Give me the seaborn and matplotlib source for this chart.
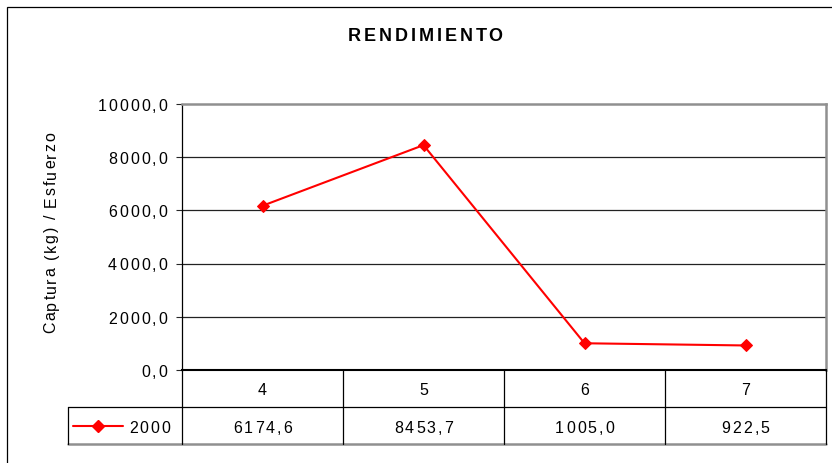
import matplotlib
matplotlib.use('Agg')
import matplotlib.pyplot as plt
from matplotlib.lines import Line2D
from matplotlib.patches import Rectangle
from matplotlib.font_manager import FontProperties
import seaborn as sns
import pandas as pd

# data
categories = ['4', '5', '6', '7']
series_name = '2000'
rendimiento = [6174.6, 8453.7, 1005.0, 922.5]
y_ticks = [0, 2000, 4000, 6000, 8000, 10000]
title = 'RENDIMIENTO'
y_label = 'Captura (kg) / Esfuerzo'

sns.set_style('white')
plt.rcParams['font.family'] = ['Liberation Sans', 'DejaVu Sans']

W, H = 832, 464
fig = plt.figure(figsize=(W / 100, H / 100), dpi=100)
renderer = fig.canvas.get_renderer()


def fx(px):
    return px / W


def fy(py):
    return 1 - py / H


def fmt(v):
    return f'{v:.1f}'.replace('.', ',')


def spaced_text(x, y, s, size=11.5, spacing=2.0, ha='center', weight='normal',
                rotation=0):
    # the reference text (old Excel) is letter-spaced, so place it char by char
    # x, y in pixels from top-left; y is the vertical centre of the caps
    fp = FontProperties(family=['Liberation Sans', 'DejaVu Sans'], size=size, weight=weight)
    base = renderer.get_text_width_height_descent('aa', fp, ismath=False)[0]
    adv = [renderer.get_text_width_height_descent('a' + c + 'a', fp, ismath=False)[0] - base
           for c in s]
    total = sum(adv) + spacing * (len(s) - 1)
    offset = {'left': 0, 'center': total / 2, 'right': total}[ha]
    cap = 0.716 * size * 100 / 72
    pos = -offset
    for c, a in zip(s, adv):
        if rotation == 0:
            bx, by = x + pos, y + cap / 2
        else:
            bx, by = x + cap / 2, y - pos
        fig.text(fx(bx), fy(by), c, ha='left', va='baseline', rotation=rotation,
                 rotation_mode='anchor', fontproperties=fp, color='black')
        pos += a + spacing


# outer chart frame (right/bottom cut off in the reference)
fig.patches.append(Rectangle((fx(7), -0.2), 1.2, fy(8) + 0.2, transform=fig.transFigure,
                             fill=False, edgecolor='black', linewidth=0.9))

left, right, top, bottom = 182, 826, 105, 371
ax = fig.add_axes([fx(left), fy(bottom), fx(right) - fx(left), fy(top) - fy(bottom)])

df = pd.DataFrame({'x': range(len(categories)), 'y': rendimiento})
sns.lineplot(data=df, x='x', y='y', ax=ax, color='#ff0000', linewidth=1.5,
             marker='D', markersize=6.5, markeredgecolor='#ff0000')

ax.set_xlim(-0.5, len(categories) - 0.5)
ax.set_ylim(0, 10000)
ax.set_yticks(y_ticks)
ax.set_yticklabels([])
ax.set_xticks([])
ax.set_xlabel('')
ax.set_ylabel('')
ax.tick_params(axis='y', direction='out', length=4, width=0.8, left=True)

for v in y_ticks[1:-1]:
    ax.axhline(v, color='#222222', linewidth=0.9, zorder=0)

for side in ['top', 'right']:
    ax.spines[side].set_color('#909090')
    ax.spines[side].set_linewidth(1.8)
ax.spines['left'].set_color('black')
ax.spines['left'].set_linewidth(0.9)
ax.spines['bottom'].set_color('black')
ax.spines['bottom'].set_linewidth(1.5)

# y tick labels
for v in y_ticks:
    ypix = H - ax.transData.transform((0, v))[1]
    spaced_text(167, ypix, fmt(v), ha='right')

spaced_text(425, 34.5, title, size=13, spacing=3.0, weight='bold')
spaced_text(50, 233, y_label, size=11.5, spacing=1.6, rotation=90)

# data table under the plot
row1, row2, row3 = 371, 408, 445
legend_left = 68
n = len(categories)
col_edges = [left + (right - left) * i / n for i in range(n + 1)]


def hline(x0, x1, y, color='black', lw=0.9):
    fig.add_artist(Line2D([fx(x0), fx(x1)], [fy(y), fy(y)], transform=fig.transFigure,
                          color=color, linewidth=lw))


def vline(x, y0, y1, color='black', lw=0.9):
    fig.add_artist(Line2D([fx(x), fx(x)], [fy(y0), fy(y1)], transform=fig.transFigure,
                          color=color, linewidth=lw))


hline(legend_left, right, row2)
hline(legend_left, right, row3, color='#909090', lw=1.8)
for xe in col_edges:
    vline(xe, row1, row3)
vline(legend_left, row2, row3)

for i, cat in enumerate(categories):
    xc = (col_edges[i] + col_edges[i + 1]) / 2
    spaced_text(xc, (row1 + row2) / 2, cat)
    spaced_text(xc, (row2 + row3) / 2 + 0.5, fmt(rendimiento[i]))

ymid = (row2 + row3) / 2 + 0.5
fig.add_artist(Line2D([fx(73), fx(123)], [fy(ymid), fy(ymid)], transform=fig.transFigure,
                      color='#ff0000', linewidth=1.5))
fig.add_artist(Line2D([fx(98)], [fy(ymid)], transform=fig.transFigure, color='#ff0000',
                      marker='D', markersize=6.5, linestyle='none'))
spaced_text(129, ymid, series_name, ha='left')

fig.savefig('out.png', dpi=100)
